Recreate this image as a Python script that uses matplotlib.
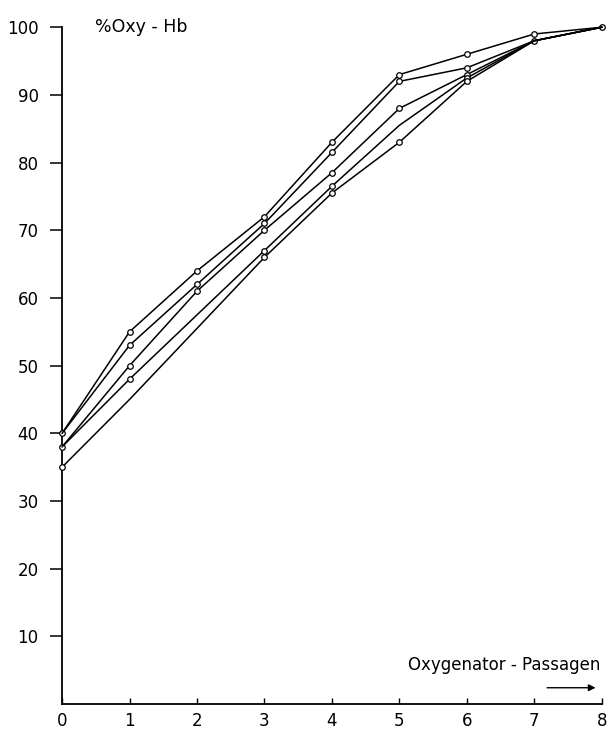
import numpy as np
import matplotlib.pyplot as plt

# Oxygenator passages
passagen = [0, 1, 2, 3, 4, 5, 6, 7, 8]

# % Oxy-Hb per run
serie_a = [40, 55, 64, 72, 83, 93, 96, 99, 100]
serie_b = [40, 53, 62, 71, 81.5, 92, 94, 98, 100]
serie_c = [38, 50, 61, 70, 78.5, 88, 93, 98, 100]
serie_d = [38, 48, 57.5, 67, 76.5, 85.5, 92.5, 98, 100]
serie_e = [35, 45, 55.5, 66, 75.5, 83, 92, 98, 100]

# which points carry a marker
marks_a = [0, 1, 2, 3, 4, 5, 6, 7, 8]
marks_b = [1, 2, 3, 4, 5, 6, 7]
marks_c = [0, 1, 2, 3, 4, 5, 6]
marks_d = [1, 3, 4, 6]
marks_e = [0, 3, 4, 5, 6]

yticks = [10, 20, 30, 40, 50, 60, 70, 80, 90, 100]
ylabels = ['10', '20', '30', '40', '50', '60', '70', '80', '90', '100']

fig = plt.figure(figsize=(6.09, 7.36), dpi=100)
ax = fig.add_axes([0.102, 0.0435, 0.886, 0.9195])

for ys, mk in [(serie_a, marks_a), (serie_b, marks_b), (serie_c, marks_c),
               (serie_d, marks_d), (serie_e, marks_e)]:
    ax.plot(passagen, ys, color='black', lw=1.1, marker='o', markersize=4,
            markerfacecolor='white', markeredgecolor='black', markeredgewidth=0.9,
            markevery=mk, clip_on=False, zorder=3)

ax.set_xlim(0, 8)
ax.set_ylim(0, 100)
ax.spines['top'].set_visible(False)
ax.spines['right'].set_visible(False)
ax.spines['left'].set_linewidth(1.3)
ax.spines['bottom'].set_linewidth(1.3)

ax.set_yticks(yticks)
ax.set_yticklabels(ylabels, fontsize=12)
ax.tick_params(axis='y', direction='out', length=9, width=1.1, pad=8)

ax.set_xticks(passagen)
ax.set_xticklabels([str(p) for p in passagen], fontsize=12)
ax.tick_params(axis='x', direction='in', length=4, width=1.0, pad=6)

ax.text(0.49, 100, '%Oxy - Hb', fontsize=12.5, va='center', ha='left')
ax.text(7.98, 5.8, 'Oxygenator - Passagen', fontsize=12, va='center', ha='right')
ax.annotate('', xy=(7.95, 2.4), xytext=(7.15, 2.4),
            arrowprops=dict(arrowstyle='-|>', color='black', lw=1.0, mutation_scale=10))

fig.savefig('out.png', dpi=100)
